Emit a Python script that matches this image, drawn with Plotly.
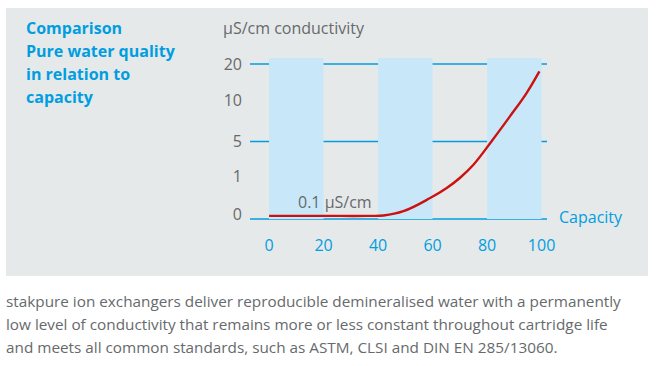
import numpy as np
import plotly.graph_objects as go

# ---- data ----
capacity = [0, 20, 36, 42, 49.3, 59.1, 65.2, 70.1, 75.0, 81.6, 88.4, 94.5, 99.2]
conductivity = [0.08, 0.08, 0.08, 0.09, 0.2, 0.54, 0.80, 1.26, 2.6, 5.0, 8.24, 12.5, 18.1]
y_tick_values = [0, 1, 5, 10, 20]
y_tick_labels = ["0", "1", "5", "10", "20"]
x_tick_values = [0, 20, 40, 60, 80, 100]
band_ranges = [(0, 20), (40, 60), (80, 100)]
ref_lines = [0, 5, 20]

title_lines = ["Comparison", "Pure water quality", "in relation to", "capacity"]
caption_lines = [
    "stakpure ion exchangers deliver reproducible demineralised water with a permanently",
    "low level of conductivity that remains more or less constant throughout cartridge life",
    "and meets all common standards, such as ASTM, CLSI and DIN EN 285/13060.",
]

# ordinal conductivity scale: each labelled tick equally spaced
tick_pos = list(range(len(y_tick_values)))
def to_pos(v):
    return np.interp(v, y_tick_values, tick_pos)

# label placement nudges (labels sit slightly above their lines in the original)
label_nudge = [0.12, 0.1, 0.0, 0.05, 0.0]

BLUE = "#009ee0"
BAND = "#c8e8f9"
GRAY_BG = "#e6e9ea"
TXT = "#666a6c"
RED = "#cc1111"
FONT = "Open Sans"

W, H = 658, 366
L, R, T, B = 250, 111, 56, 145
pw, ph = W - L - R, H - T - B
def px_x(px):
    return (px - L) / pw
def px_y(py):
    return (H - B - py) / ph

fig = go.Figure()
fig.add_trace(go.Scatter(x=capacity, y=to_pos(conductivity), mode="lines",
                         line=dict(color=RED, width=2.4, shape="spline", smoothing=1.1),
                         hoverinfo="skip", showlegend=False))

shapes = []
shapes.append(dict(type="rect", xref="paper", yref="paper", x0=px_x(6), x1=px_x(648),
                   y0=px_y(276), y1=px_y(8), fillcolor=GRAY_BG, line_width=0, layer="below"))
for a, b in band_ranges:
    shapes.append(dict(type="rect", xref="x", yref="y", x0=a, x1=b, y0=float(to_pos(0)), y1=4.155,
                       fillcolor=BAND, line_width=0, layer="below"))
for v in ref_lines:
    p = float(to_pos(v))
    shapes.append(dict(type="line", xref="paper", yref="y", x0=0, x1=1, y0=p, y1=p,
                       line=dict(color=BLUE, width=1.3), layer="below"))

ann = []
for i, t in enumerate(title_lines):
    ann.append(dict(text="<b>" + t + "</b>", xref="paper", yref="paper",
                    x=px_x(24), y=px_y(28 + 23 * i), xanchor="left", yanchor="middle",
                    showarrow=False, font=dict(size=16, color=BLUE, family=FONT)))
ann.append(dict(text="µS/cm conductivity", xref="paper", yref="paper",
                x=px_x(221), y=px_y(28), xanchor="left", yanchor="middle",
                showarrow=False, font=dict(size=16, color=TXT, family=FONT)))
ann.append(dict(text="0.1 µS/cm", xref="paper", yref="paper",
                x=px_x(296), y=px_y(202), xanchor="left", yanchor="middle",
                showarrow=False, font=dict(size=16, color=TXT, family=FONT)))
ann.append(dict(text="Capacity", xref="paper", yref="paper",
                x=px_x(557), y=px_y(217), xanchor="left", yanchor="middle",
                showarrow=False, font=dict(size=16, color=BLUE, family=FONT)))
for i, t in enumerate(caption_lines):
    ann.append(dict(text=t, xref="paper", yref="paper",
                    x=px_x(4), y=px_y(301 + 23 * i), xanchor="left", yanchor="middle",
                    showarrow=False, font=dict(size=15.3, color=TXT, family=FONT)))

fig.update_layout(
    width=W, height=H, margin=dict(l=L, r=R, t=T, b=B, pad=0),
    paper_bgcolor="white", plot_bgcolor=GRAY_BG,
    shapes=shapes, annotations=ann,
    xaxis=dict(range=[-7, 102], tickvals=x_tick_values, showgrid=False, zeroline=False,
               showline=False, ticks="", tickfont=dict(size=16, color=BLUE, family=FONT),
               ticklabelstandoff=13, fixedrange=True),
    yaxis=dict(range=[-0.052, 4.206], tickvals=[p + n for p, n in zip(tick_pos, label_nudge)],
               ticktext=y_tick_labels,
               showgrid=False, zeroline=False, showline=False, ticks="",
               tickfont=dict(size=16, color=TXT, family=FONT),
               ticklabelstandoff=7, fixedrange=True),
)

fig.write_html("out.html", config={"displayModeBar": False},
               post_script="document.body.style.margin='0px';")
